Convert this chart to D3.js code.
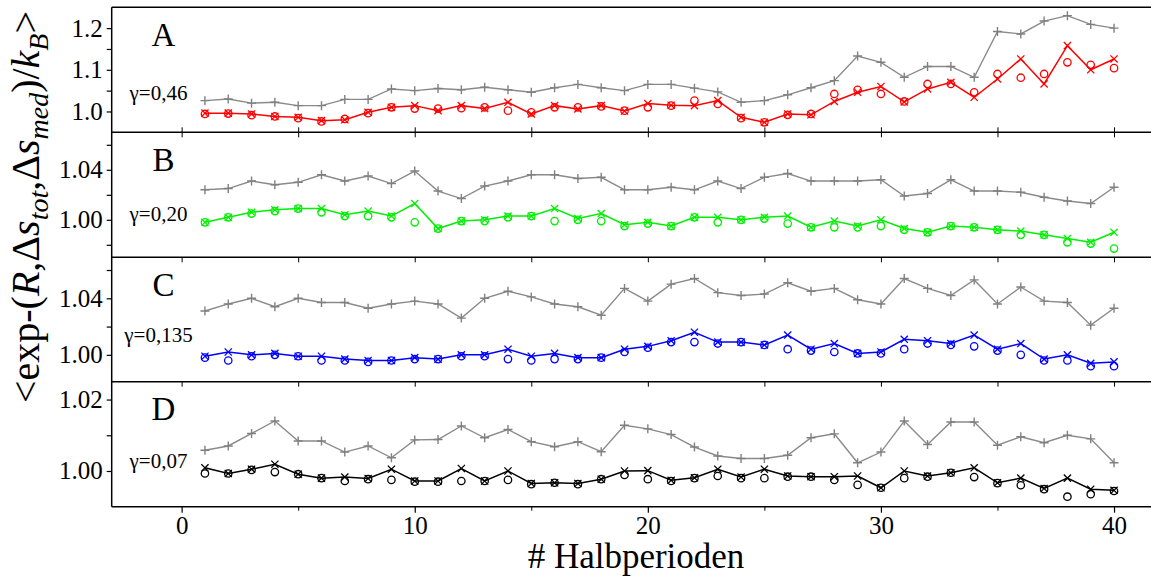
<!DOCTYPE html>
<html>
<head>
<meta charset="utf-8">
<script src="https://cdn.jsdelivr.net/npm/d3@7"></script>
<style>
  body { margin: 0; background: #fff; }
</style>
</head>
<body>
<div id="chart"></div>
<script>
var svgWidth = 1151;
var svgHeight = 581;
var serif = '"Liberation Serif"';

// half period index (x values)
var halfPeriods = [1, 2, 3, 4, 5, 6, 7, 8, 9, 10, 11, 12, 13, 14, 15, 16, 17, 18, 19, 20,
    21, 22, 23, 24, 25, 26, 27, 28, 29, 30, 31, 32, 33, 34, 35, 36, 37, 38, 39, 40];
var xTicks = [0, 10, 20, 30, 40];
var xMinorTicks = [5, 15, 25, 35];

// panel A, gamma = 0,46
var aPlus = [1.026, 1.030, 1.020, 1.022, 1.014, 1.014, 1.029, 1.029, 1.054, 1.050, 1.055, 1.052, 1.058, 1.052, 1.046, 1.057, 1.065, 1.057, 1.050, 1.065,
    1.065, 1.056, 1.047, 1.022, 1.026, 1.040, 1.057, 1.074, 1.133, 1.118, 1.082, 1.108, 1.108, 1.082, 1.192, 1.186, 1.217, 1.230, 1.209, 1.200];
var aCross = [0.996, 0.996, 0.994, 0.988, 0.986, 0.978, 0.980, 0.998, 1.010, 1.014, 1.002, 1.014, 1.007, 1.022, 0.994, 1.014, 1.006, 1.014, 1.001, 1.019,
    1.015, 1.014, 1.026, 0.986, 0.974, 0.994, 0.992, 1.024, 1.046, 1.060, 1.023, 1.054, 1.070, 1.034, 1.078, 1.126, 1.066, 1.158, 1.100, 1.126];
var aCircle = [0.994, 0.995, 0.991, 0.988, 0.984, 0.976, 0.982, 0.996, 1.010, 1.007, 1.007, 1.008, 1.010, 1.002, 0.998, 1.010, 1.010, 1.012, 1.002, 1.010,
    1.014, 1.026, 1.018, 0.984, 0.974, 0.992, 0.994, 1.042, 1.052, 1.042, 1.024, 1.066, 1.066, 1.046, 1.090, 1.081, 1.090, 1.118, 1.112, 1.104];

// panel B, gamma = 0,20
var bPlus = [1.024, 1.025, 1.031, 1.028, 1.030, 1.036, 1.031, 1.035, 1.029, 1.039, 1.023, 1.017, 1.027, 1.031, 1.036, 1.036, 1.033, 1.034, 1.024, 1.024,
    1.026, 1.024, 1.031, 1.025, 1.034, 1.037, 1.031, 1.031, 1.031, 1.032, 1.019, 1.021, 1.032, 1.023, 1.023, 1.022, 1.018, 1.015, 1.013, 1.026];
var bCross = [0.998, 1.002, 1.006, 1.008, 1.009, 1.009, 1.004, 1.007, 1.003, 1.013, 0.993, 0.999, 1.000, 1.003, 1.003, 1.009, 1.001, 1.005, 0.996, 0.998,
    0.995, 1.002, 1.002, 1.000, 1.002, 1.003, 0.994, 0.999, 0.995, 1.000, 0.993, 0.990, 0.995, 0.994, 0.992, 0.991, 0.988, 0.985, 0.982, 0.990];
var bCircle = [0.998, 1.002, 1.005, 1.007, 1.009, 1.006, 1.003, 1.003, 1.002, 0.998, 0.993, 0.999, 0.999, 1.002, 1.003, 0.999, 1.000, 0.999, 0.995, 0.997,
    0.995, 1.002, 0.998, 1.000, 1.001, 0.997, 0.994, 0.994, 0.994, 0.995, 0.992, 0.990, 0.995, 0.994, 0.992, 0.988, 0.988, 0.982, 0.981, 0.977];

// panel C, gamma = 0,135
var cPlus = [1.031, 1.036, 1.040, 1.034, 1.040, 1.037, 1.037, 1.033, 1.036, 1.038, 1.036, 1.026, 1.040, 1.045, 1.041, 1.036, 1.034, 1.028, 1.047, 1.038,
    1.050, 1.054, 1.044, 1.042, 1.043, 1.051, 1.045, 1.047, 1.039, 1.036, 1.054, 1.047, 1.042, 1.053, 1.036, 1.048, 1.038, 1.037, 1.021, 1.033];
var cCross = [0.999, 1.002, 1.000, 1.001, 0.999, 0.999, 0.997, 0.996, 0.996, 0.998, 0.997, 1.000, 1.000, 1.004, 0.999, 1.001, 0.998, 0.998, 1.004, 1.006,
    1.010, 1.016, 1.009, 1.009, 1.007, 1.014, 1.004, 1.008, 1.001, 1.002, 1.011, 1.010, 1.008, 1.014, 1.004, 1.008, 0.997, 1.000, 0.994, 0.995];
var cCircle = [0.998, 0.996, 0.999, 1.000, 0.999, 0.996, 0.996, 0.995, 0.996, 0.997, 0.997, 0.999, 0.999, 0.997, 0.996, 0.997, 0.997, 0.998, 1.002, 1.005,
    1.009, 1.009, 1.008, 1.009, 1.007, 1.004, 1.003, 1.002, 1.001, 1.001, 1.004, 1.008, 1.007, 1.006, 1.003, 1.000, 0.996, 0.996, 0.992, 0.992];

// panel D, gamma = 0,07
var dPlus = [1.0058, 1.0070, 1.0105, 1.0140, 1.0084, 1.0084, 1.0053, 1.0070, 1.0037, 1.0087, 1.0088, 1.0126, 1.0093, 1.0116, 1.0082, 1.0068, 1.0082, 1.0054, 1.0128, 1.0118,
    1.0102, 1.0067, 1.0042, 1.0035, 1.0035, 1.0044, 1.0093, 1.0104, 1.0023, 1.0053, 1.0140, 1.0074, 1.0137, 1.0137, 1.0072, 1.0096, 1.0079, 1.0100, 1.0090, 1.0023];
var dCross = [1.0009, 0.9993, 1.0005, 1.0019, 0.9991, 0.9980, 0.9983, 0.9979, 1.0005, 0.9972, 0.9972, 1.0007, 0.9972, 1.0000, 0.9965, 0.9967, 0.9965, 0.9977, 1.0000, 1.0001,
    0.9974, 0.9981, 1.0005, 0.9983, 1.0005, 0.9986, 0.9984, 0.9984, 0.9986, 0.9953, 1.0000, 0.9986, 0.9995, 1.0009, 0.9967, 0.9980, 0.9951, 0.9980, 0.9949, 0.9946];
var dCircle = [0.9993, 0.9993, 1.0003, 0.9997, 0.9991, 0.9980, 0.9972, 0.9977, 0.9975, 0.9970, 0.9970, 0.9972, 0.9972, 0.9975, 0.9963, 0.9967, 0.9963, 0.9977, 0.9989, 0.9977,
    0.9972, 0.9980, 0.9986, 0.9980, 0.9980, 0.9984, 0.9984, 0.9975, 0.9961, 0.9953, 0.9980, 0.9984, 0.9995, 0.9983, 0.9966, 0.9960, 0.9949, 0.9928, 0.9935, 0.9944];

// panel letters, gamma labels, y ticks
var panelLetters = ["A", "B", "C", "D"];
var gammaLabels = ["\u03b3=0,46", "\u03b3=0,20", "\u03b3=0,135", "\u03b3=0,07"];
var yMajorTicks = [[1.0, 1.1, 1.2], [1.00, 1.04], [1.00, 1.04], [1.00, 1.02]];
var yMinorTicks = [[1.05, 1.15], [0.98, 1.02, 1.06], [1.02, 1.06], [1.01]];
var yTickFormats = [".1f", ".2f", ".2f", ".2f"];
var yDomains = [[0.95, 1.25], [0.97, 1.07], [0.981, 1.069], [0.990, 1.025]];
var lineColors = ["#ff0000", "#00f000", "#0000ff", "#000000"];

var panels = [
    { plus: aPlus, cross: aCross, circle: aCircle, top: 7.3, bottom: 132.3 },
    { plus: bPlus, cross: bCross, circle: bCircle, top: 132.3, bottom: 257.3 },
    { plus: cPlus, cross: cCross, circle: cCircle, top: 257.3, bottom: 381.7 },
    { plus: dPlus, cross: dCross, circle: dCircle, top: 381.7, bottom: 506.7 }
];

var frameLeft = 111.7;
var frameRight = 1165;

var svg = d3.select("#chart")
    .append("svg")
    .attr("width", svgWidth)
    .attr("height", svgHeight);

var xScale = d3.scaleLinear()
    .domain([-3, 42])
    .range([frameLeft, frameLeft + 45 * 23.31]);

var plusPath = "M-4.5,0H4.5M0,-4.5V4.5";
var crossPath = "M-3.6,-3.6L3.6,3.6M-3.6,3.6L3.6,-3.6";

panels.forEach(function (p, i) {
    var yScale = d3.scaleLinear()
        .domain(yDomains[i])
        .range([p.bottom, p.top]);

    var g = svg.append("g");

    // y axis, majors with labels
    var yAxis = g.append("g")
        .attr("transform", `translate(${frameLeft},0)`)
        .call(d3.axisLeft(yScale).tickValues(yMajorTicks[i]).tickSize(5).tickPadding(4)
            .tickFormat(d3.format(yTickFormats[i])));
    yAxis.attr("font-family", null).attr("font-size", null);
    yAxis.select(".domain").remove();
    yAxis.selectAll("text").style("font-family", serif).style("font-size", "25px");
    yAxis.selectAll("line").attr("stroke-width", 1.2);

    var yMinor = g.append("g")
        .attr("transform", `translate(${frameLeft},0)`)
        .call(d3.axisLeft(yScale).tickValues(yMinorTicks[i]).tickSize(5).tickFormat(""));
    yMinor.select(".domain").remove();
    yMinor.selectAll("line").attr("stroke-width", 1.2);

    // inner x ticks on the panel borders
    var allX = xTicks.concat(xMinorTicks);
    if (i === 0) {
        var inA = g.append("g")
            .attr("transform", `translate(0,${p.bottom})`)
            .call(d3.axisBottom(xScale).tickValues(allX).tickSize(-5).tickFormat(""));
        inA.select(".domain").remove();
    } else {
        var inT = g.append("g")
            .attr("transform", `translate(0,${p.top})`)
            .call(d3.axisTop(xScale).tickValues(allX).tickSize(-5).tickFormat(""));
        inT.select(".domain").remove();
    }

    var plusData = halfPeriods.map((x, k) => ({ x: x, y: p.plus[k] }));
    var crossData = halfPeriods.map((x, k) => ({ x: x, y: p.cross[k] }));
    var circleData = halfPeriods.map((x, k) => ({ x: x, y: p.circle[k] }));

    var line = d3.line()
        .x(d => xScale(d.x))
        .y(d => yScale(d.y));

    // gray "+" series
    g.append("path")
        .datum(plusData)
        .attr("d", line)
        .attr("fill", "none")
        .attr("stroke", "#8a8a8a")
        .attr("stroke-width", 1.4);

    g.selectAll(null)
        .data(plusData)
        .enter()
        .append("path")
        .attr("d", plusPath)
        .attr("transform", d => `translate(${xScale(d.x)},${yScale(d.y)})`)
        .attr("stroke", "#808080")
        .attr("stroke-width", 1.4)
        .attr("fill", "none");

    // colored "x" series with line
    g.append("path")
        .datum(crossData)
        .attr("d", line)
        .attr("fill", "none")
        .attr("stroke", lineColors[i])
        .attr("stroke-width", 1.5);

    g.selectAll(null)
        .data(crossData)
        .enter()
        .append("path")
        .attr("d", crossPath)
        .attr("transform", d => `translate(${xScale(d.x)},${yScale(d.y)})`)
        .attr("stroke", lineColors[i])
        .attr("stroke-width", 1.3)
        .attr("fill", "none");

    // colored "o" series
    g.selectAll(null)
        .data(circleData)
        .enter()
        .append("circle")
        .attr("cx", d => xScale(d.x))
        .attr("cy", d => yScale(d.y))
        .attr("r", 3.7)
        .attr("fill", "none")
        .attr("stroke", lineColors[i])
        .attr("stroke-width", 1.3);

    // panel letter and gamma label
    g.append("text")
        .attr("x", 163.5)
        .attr("y", p.top + 38.5)
        .attr("text-anchor", "middle")
        .style("font-family", serif)
        .style("font-size", "33px")
        .text(panelLetters[i]);

    g.append("text")
        .attr("x", 158.5)
        .attr("y", [100, 220.5, 342.3, 468.3][i])
        .attr("text-anchor", "middle")
        .style("font-family", serif)
        .style("font-size", "21px")
        .text(gammaLabels[i]);

    // panel border line
    svg.append("line")
        .attr("x1", frameLeft).attr("x2", frameRight)
        .attr("y1", p.top).attr("y2", p.top)
        .attr("stroke", "#000")
        .attr("stroke-width", 1.5);
});

// bottom border and left border
svg.append("line")
    .attr("x1", frameLeft).attr("x2", frameRight)
    .attr("y1", 506.7).attr("y2", 506.7)
    .attr("stroke", "#000").attr("stroke-width", 1.5);
svg.append("line")
    .attr("x1", frameLeft).attr("x2", frameLeft)
    .attr("y1", 7.3).attr("y2", 506.7)
    .attr("stroke", "#000").attr("stroke-width", 1.5);

// bottom x axis
var xAxis = svg.append("g")
    .attr("transform", "translate(0,506.7)")
    .call(d3.axisBottom(xScale).tickValues(xTicks).tickSize(6).tickPadding(4));
xAxis.attr("font-family", null).attr("font-size", null);
xAxis.select(".domain").remove();
xAxis.selectAll("text").style("font-family", serif).style("font-size", "25px");
xAxis.selectAll("line").attr("stroke-width", 1.2);

var xMinor = svg.append("g")
    .attr("transform", "translate(0,506.7)")
    .call(d3.axisBottom(xScale).tickValues(xMinorTicks).tickSize(4).tickFormat(""));
xMinor.select(".domain").remove();

// axis titles
svg.append("text")
    .attr("x", 636)
    .attr("y", 568)
    .attr("text-anchor", "middle")
    .style("font-family", serif)
    .style("font-size", "35px")
    .text("# Halbperioden");

var yLabel = svg.append("text")
    .attr("transform", "translate(39,207) rotate(-90)")
    .attr("text-anchor", "middle")
    .style("font-family", serif)
    .style("font-size", "40px");
yLabel.append("tspan").text("<exp-(");
yLabel.append("tspan").style("font-style", "italic").text("R");
yLabel.append("tspan").text(",\u0394");
yLabel.append("tspan").style("font-style", "italic").text("s");
yLabel.append("tspan").style("font-style", "italic").style("font-size", "28px").attr("dy", 9).text("tot");
yLabel.append("tspan").attr("dy", -9).text(",\u0394");
yLabel.append("tspan").style("font-style", "italic").text("s");
yLabel.append("tspan").style("font-style", "italic").style("font-size", "28px").attr("dy", 9).text("med");
yLabel.append("tspan").attr("dy", -9).text(")/");
yLabel.append("tspan").style("font-style", "italic").text("k");
yLabel.append("tspan").style("font-style", "italic").style("font-size", "28px").attr("dy", 9).text("B");
yLabel.append("tspan").attr("dy", -9).text(">");
</script>
</body>
</html>
